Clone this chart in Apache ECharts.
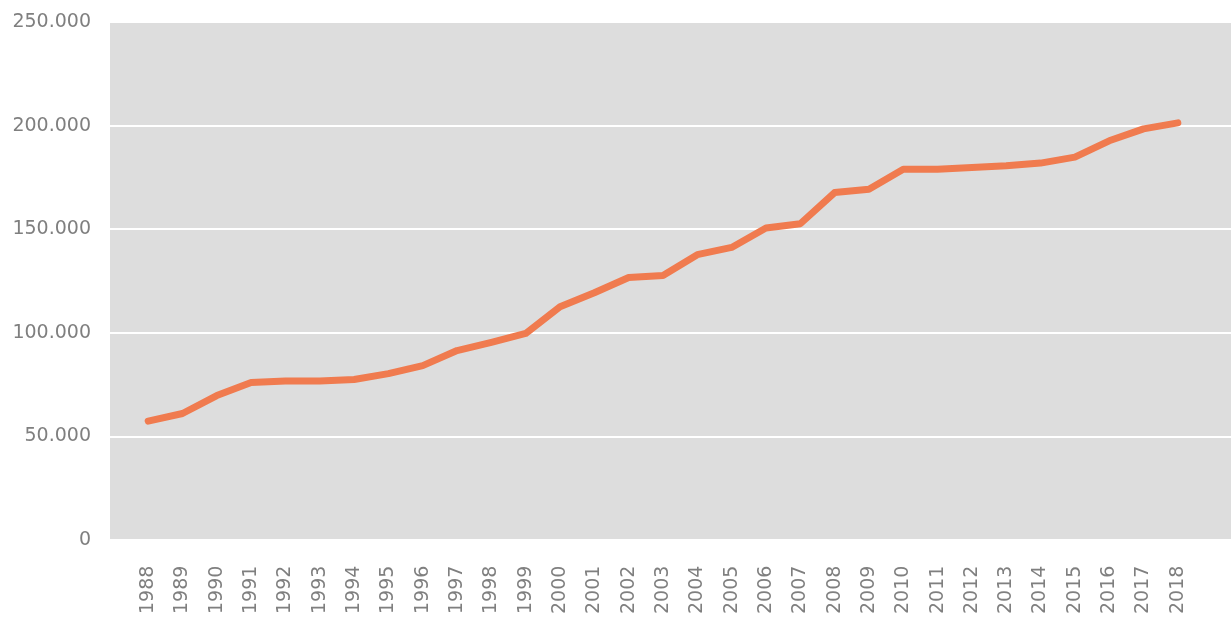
<!DOCTYPE html>
<html>
<head>
<meta charset="utf-8">
<script src="https://cdn.jsdelivr.net/npm/echarts@6/dist/echarts.min.js"></script>
<style>
html,body{margin:0;padding:0;background:#fff;}
#c{width:1231px;height:617px;}
</style>
</head>
<body>
<div id="c"></div>
<script>
const years = ['1988','1989','1990','1991','1992','1993','1994','1995','1996','1997','1998','1999','2000','2001','2002','2003','2004','2005','2006','2007','2008','2009','2010','2011','2012','2013','2014','2015','2016','2017','2018'];
const values = [56500,60200,68900,75200,76000,75900,76700,79500,83400,90700,94700,99000,111900,118700,126100,127100,137200,140700,150100,152200,167300,168900,178600,178600,179400,180300,181600,184500,192400,198200,201100];
const yTicks = [0,50000,100000,150000,200000,250000];

const yMin = yTicks[0], yMax = yTicks[yTicks.length-1], yStep = yTicks[1]-yTicks[0];
const fmt = v => v === 0 ? '0' : (v/1000) + '.000';

const chart = echarts.init(document.getElementById('c'));
chart.setOption({
  animation: false,
  grid: [
    {left:110, right:0, top:22, bottom:77, show:true, backgroundColor:'#dddddd', borderWidth:0},
    {left:131, right:36, top:22, bottom:77}
  ],
  xAxis: [
    {gridIndex:0, type:'category', data:years, show:false},
    {gridIndex:1, type:'category', data:years, boundaryGap:true,
      axisLine:{show:false}, axisTick:{show:false},
      axisLabel:{rotate:90, interval:0, margin:28, color:'#7f7f7f', fontSize:19, fontFamily:'DejaVu Sans'}}
  ],
  yAxis: [
    {gridIndex:0, type:'value', min:yMin, max:yMax, interval:yStep,
      axisLine:{show:false}, axisTick:{show:false},
      axisLabel:{formatter:fmt, margin:19, color:'#7f7f7f', fontSize:19, fontFamily:'DejaVu Sans'},
      splitLine:{show:true, lineStyle:{color:'#ffffff', width:2}}},
    {gridIndex:1, type:'value', min:yMin, max:yMax, interval:yStep, show:false, splitLine:{show:false}}
  ],
  series: [{
    type:'line', xAxisIndex:1, yAxisIndex:1, data:values,
    showSymbol:false, symbol:'none',
    lineStyle:{color:'#f07b4f', width:7, cap:'round', join:'round'}
  }]
});
</script>
</body>
</html>
